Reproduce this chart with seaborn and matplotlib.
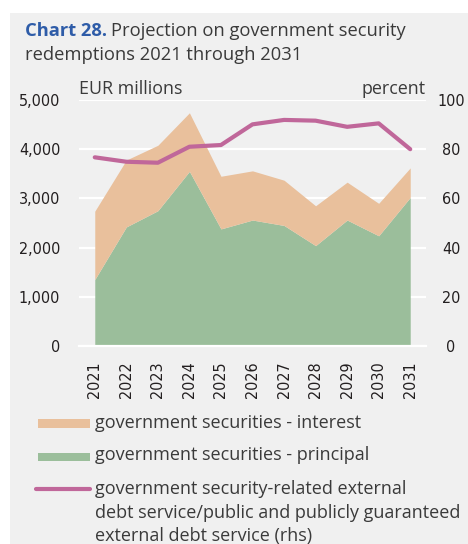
import numpy as np
import pandas as pd
import matplotlib.pyplot as plt
import matplotlib.patches as mpatches
import matplotlib.lines as mlines
import seaborn as sns

# data
years = ["2021", "2022", "2023", "2024", "2025", "2026", "2027", "2028", "2029", "2030", "2031"]
principal = [1350, 2420, 2750, 3550, 2380, 2560, 2450, 2040, 2560, 2240, 3020]
interest = [1390, 1360, 1330, 1190, 1070, 1000, 920, 810, 770, 660, 600]
share_pct = [76.7, 74.9, 74.5, 81.0, 81.7, 90.1, 91.9, 91.6, 89.1, 90.5, 80.0]

legend_labels = [
    "government securities - interest",
    "government securities - principal",
    "government security-related external\ndebt service/public and publicly guaranteed\nexternal debt service (rhs)",
]

BG = "#f0f0f0"
C_INT = "#e9c09c"
C_PRI = "#9bbe9b"
C_LINE = "#c0679a"
TXT = "#231f20"
GREY_TXT = "#3a3a3a"

sns.set_theme(style="white")
plt.rcParams["font.family"] = ["Open Sans", "DejaVu Sans"]

df = pd.DataFrame({"year": years, "principal": principal, "interest": interest, "pct": share_pct})
df["x"] = np.arange(len(df))
df["total"] = df["principal"] + df["interest"]

W, H = 468, 544
fig = plt.figure(figsize=(W / 100, H / 100), dpi=100)
fig.patch.set_facecolor("white")
fig.add_artist(mpatches.Rectangle((10 / W, 0), 1, 1 - 13 / H, transform=fig.transFigure,
                                  facecolor=BG, edgecolor="none", zorder=-10))

ax = fig.add_axes([79 / W, 1 - 346 / H, 347 / W, 246 / H])
ax.set_facecolor(BG)
ax.fill_between(df["x"], 0, df["principal"], color=C_PRI, linewidth=0, zorder=2)
ax.fill_between(df["x"], df["principal"], df["total"], color=C_INT, linewidth=0, zorder=2)
ax.set_ylim(0, 5000)
ax.set_xlim(-0.5, len(df) - 0.5)
ax.set_yticks([0, 1000, 2000, 3000, 4000, 5000])
ax.set_yticklabels(["0", "1,000", "2,000", "3,000", "4,000", "5,000"])
ax.grid(axis="y", color="white", linewidth=1.6, zorder=1)
ax.set_axisbelow(True)
ax.set_xticks(df["x"])
ax.set_xticklabels(years, rotation=90)
ax.set_xticks(np.arange(-0.5, len(df)), minor=True)
ax.tick_params(axis="x", which="major", length=0, pad=11)
ax.tick_params(axis="x", which="minor", length=5, width=1.6, color="white", direction="out")
ax.tick_params(axis="y", length=0, pad=13.5)
for lab in ax.get_xticklabels() + ax.get_yticklabels():
    lab.set_family("DejaVu Sans")
    lab.set_fontstretch("condensed")
    lab.set_fontsize(11.5)
    lab.set_color(TXT)
for s in ["top", "left", "right"]:
    ax.spines[s].set_visible(False)
ax.spines["bottom"].set_color("white")
ax.spines["bottom"].set_linewidth(1.6)
ax.set_xlabel("")
ax.set_ylabel("")

ax2 = ax.twinx()
sns.lineplot(data=df, x="x", y="pct", ax=ax2, color=C_LINE, linewidth=3, zorder=3)
ax2.set_ylim(0, 100)
ax2.set_yticks([0, 20, 40, 60, 80, 100])
ax2.tick_params(axis="y", length=0, pad=18)
for lab in ax2.get_yticklabels():
    lab.set_family("DejaVu Sans")
    lab.set_fontstretch("condensed")
    lab.set_fontsize(11.5)
    lab.set_color(TXT)
    lab.set_ha("center")
for s in ax2.spines.values():
    s.set_visible(False)
ax2.set_xlabel("")
ax2.set_ylabel("")

ax.text(0, 1.01, "EUR millions", transform=ax.transAxes, fontsize=12.9, color=GREY_TXT, va="bottom")
ax.text(1, 1.01, "percent", transform=ax.transAxes, fontsize=12.9, color=GREY_TXT, va="bottom", ha="right")

# title
t1 = fig.text(25 / W, 1 - 36 / H, "Chart 28.", fontsize=13.2, fontweight="bold", color="#2e5ca8")
fig.canvas.draw()
bb = t1.get_window_extent()
fig.text(bb.x1 / W + 0.008, 1 - 36 / H, "Projection on government security",
         fontsize=13.2, color=GREY_TXT)
fig.text(25 / W, 1 - 60 / H, "redemptions 2021 through 2031", fontsize=13.2, color=GREY_TXT)

# legend, laid out by hand
fig.add_artist(mpatches.Rectangle((38 / W, 1 - 428 / H), 52 / W, 9 / H, transform=fig.transFigure,
                                  facecolor=C_INT, edgecolor="none"))
fig.add_artist(mpatches.Rectangle((38 / W, 1 - 461 / H), 52 / W, 8 / H, transform=fig.transFigure,
                                  facecolor=C_PRI, edgecolor="none"))
fig.add_artist(mlines.Line2D([36 / W, 90 / W], [1 - 489 / H, 1 - 489 / H], transform=fig.transFigure,
                             color=C_LINE, linewidth=3, solid_capstyle="round"))
fig.text(95 / W, 1 - 423 / H, legend_labels[0], fontsize=13, color=GREY_TXT, va="center")
fig.text(95 / W, 1 - 455 / H, legend_labels[1], fontsize=13, color=GREY_TXT, va="center")
for i, line in enumerate(legend_labels[2].split("\n")):
    fig.text(95 / W, 1 - (489 + 23.5 * i) / H, line, fontsize=13, color=GREY_TXT, va="center")

fig.savefig("out.png", dpi=100, facecolor=fig.get_facecolor())
